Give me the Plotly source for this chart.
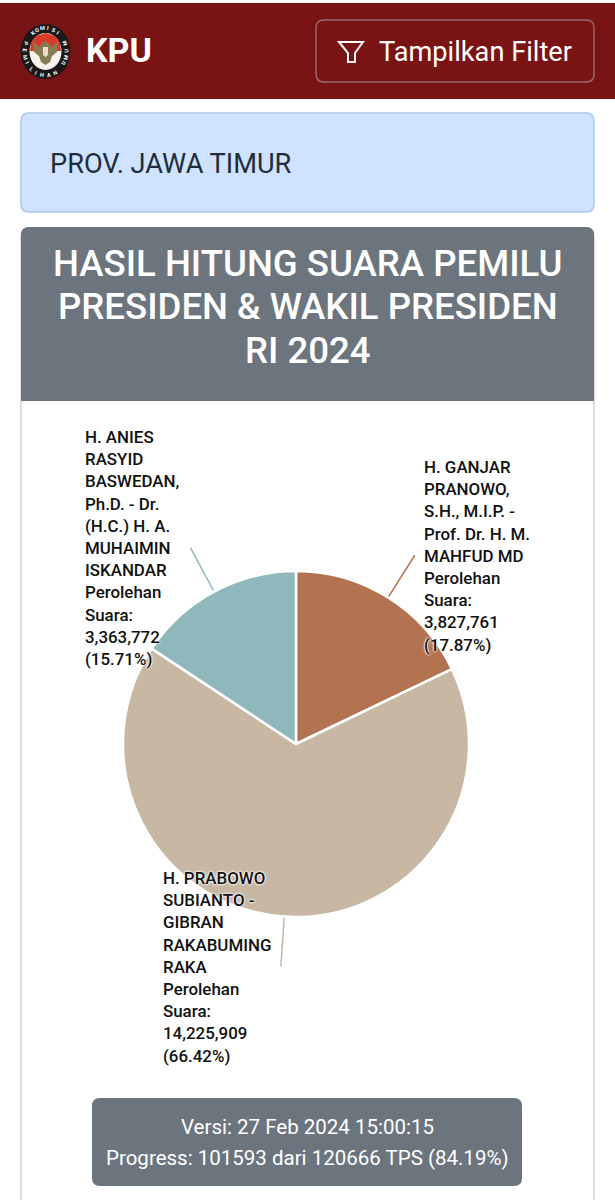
import math
import plotly.graph_objects as go

W, H = 615, 1200

# Vote tally
candidates = [
    "H. GANJAR PRANOWO, S.H., M.I.P. - Prof. Dr. H. M. MAHFUD MD",
    "H. PRABOWO SUBIANTO - GIBRAN RAKABUMING RAKA",
    "H. ANIES RASYID BASWEDAN, Ph.D. - Dr. (H.C.) H. A. MUHAIMIN ISKANDAR",
]
votes = [3827761, 14225909, 3363772]
slice_colors = ["#b47350", "#c7b7a3", "#8fb8bd"]

# Wrapped label lines for each slice
label_lines = [
    ["H. GANJAR", "PRANOWO,", "S.H., M.I.P. -", "Prof. Dr. H. M.", "MAHFUD MD", "Perolehan", "Suara:", "3,827,761", "(17.87%)"],
    ["H. PRABOWO", "SUBIANTO -", "GIBRAN", "RAKABUMING", "RAKA", "Perolehan", "Suara:", "14,225,909", "(66.42%)"],
    ["H. ANIES", "RASYID", "BASWEDAN,", "Ph.D. - Dr.", "(H.C.) H. A.", "MUHAIMIN", "ISKANDAR", "Perolehan", "Suara:", "3,363,772", "(15.71%)"],
]
label_origin = [(422, 467), (161, 878), (83, 437)]

title_lines = ["HASIL HITUNG SUARA PEMILU", "PRESIDEN & WAKIL PRESIDEN", "RI 2024"]
footer_lines = ["Versi: 27 Feb 2024 15:00:15", "Progress: 101593 dari 120666 TPS (84.19%)"]

CX, CY, R = 296, 744, 172
LEADER = 51
FONT = "Roboto, sans-serif"


def px(x):
    return x / W


def py(y):
    return 1 - y / H


def rounded(x0, y0, x1, y1, r, top_only=False):
    a, b, c, d = px(x0), py(y0), px(x1), py(y1)
    rx, ry = r / W, r / H
    p = f"M{a},{b - ry} Q{a},{b} {a + rx},{b} L{c - rx},{b} Q{c},{b} {c},{b - ry} "
    if top_only:
        p += f"L{c},{d} L{a},{d} Z"
    else:
        p += f"L{c},{d + ry} Q{c},{d} {c - rx},{d} L{a + rx},{d} Q{a},{d} {a},{d + ry} Z"
    return p


def panel(x0, y0, x1, y1, r, fill, line=None, lw=1, top_only=False, layer="below"):
    return dict(
        type="path", xref="paper", yref="paper", path=rounded(x0, y0, x1, y1, r, top_only),
        fillcolor=fill, line=dict(color=line or fill, width=lw if line else 0), layer=layer,
    )


def path_of(points, close=True):
    s = "M" + " L".join(f"{px(x)},{py(y)}" for x, y in points)
    return s + (" Z" if close else "")


def polygon(points, fill):
    return dict(type="path", xref="paper", yref="paper", path=path_of(points),
                fillcolor=fill, line=dict(width=0), layer="above")


def ellipse(cx, cy, rx, ry, fill, layer="above"):
    return dict(
        type="circle", xref="paper", yref="paper",
        x0=px(cx - rx), x1=px(cx + rx), y0=py(cy + ry), y1=py(cy - ry),
        fillcolor=fill, line=dict(width=0), layer=layer,
    )


def text(x, y, s, size, color, anchor="left", weight=400, halo=False, angle=0):
    font = dict(family=FONT, size=size, color=color, weight=weight)
    if halo:
        font["shadow"] = "0 0 2px #fff, 0 0 2px #fff, 0 0 3px #fff"
    return dict(
        xref="paper", yref="paper", x=px(x), y=py(y), text=s, showarrow=False,
        xanchor=anchor, yanchor="middle", align=anchor, font=font, textangle=angle,
    )


# Emblem geometry
EX, EY = 45.5, 51.5
emblem_red = [(30, 51), (31, 43), (36, 36), (45.5, 33), (55, 36), (60, 43), (61, 51)]

shapes = [
    # Page chrome
    dict(type="rect", xref="paper", yref="paper", x0=0, x1=1, y0=py(99), y1=py(3),
         fillcolor="#7a1414", line=dict(width=0), layer="below"),
    panel(316, 20, 594, 82, 8, "#7a1414", "#96686a", 1.5),
    panel(21, 113, 594, 212, 8, "#cfe2ff", "#a9c8ee", 1.5),
    # Card body and heading
    panel(21, 228, 594, 1215, 8, "#ffffff", "#d0d2d6", 1.5),
    panel(21, 227, 594, 401, 8, "#6c757d", top_only=True),
    panel(92, 1098, 522, 1186, 8, "#6c757d"),
    # Filter icon
    dict(type="path", xref="paper", yref="paper",
         path=path_of([(339, 42), (363, 42), (355, 53), (355, 62), (348, 62), (348, 53)]),
         fillcolor="rgba(0,0,0,0)", line=dict(color="#ffffff", width=2), layer="above"),
    # Emblem
    ellipse(EX, EY, 25, 27.5, "#1a1818"),
    ellipse(EX, EY, 16, 18.5, "#f6f2ec"),
    polygon(emblem_red, "#d8392b"),
    polygon([(33, 41), (39, 47), (42, 43), (45.5, 41), (49, 43), (52, 47), (58, 41),
             (57, 52), (52, 56), (50, 62), (45.5, 65), (41, 62), (39, 56), (34, 52)], "#8a7a52"),
    polygon([(43, 47), (48, 47), (48, 55), (45.5, 57), (43, 55)], "#e7ded0"),
]

# Leader lines leave each slice at the middle of its arc
total = sum(votes)
cumulative = 0
for value, color in zip(votes, slice_colors):
    mid = 2 * math.pi * (cumulative + value / 2) / total
    cumulative += value
    sx, sy = math.sin(mid), -math.cos(mid)
    shapes.append(dict(
        type="line", xref="paper", yref="paper",
        x0=px(CX + R * sx), y0=py(CY + R * sy),
        x1=px(CX + (R + LEADER) * sx), y1=py(CY + (R + LEADER) * sy),
        line=dict(color=color, width=1.5), layer="below",
    ))

annotations = [
    text(84, 50, "KPU", 34, "#ffffff", weight=700),
    text(377, 52, "Tampilkan Filter", 27.2, "#ffffff"),
    text(48, 164, "PROV. JAWA TIMUR", 27.2, "#1f2d3d"),
]
for y, line in zip((263, 306, 350), title_lines):
    annotations.append(text(307.5, y, line, 36.6, "#ffffff", anchor="center", weight=500))
for y, line in zip((1127, 1158), footer_lines):
    annotations.append(text(307, y, line, 20.5, "#ffffff", anchor="center"))
for (x, y0), lines in zip(label_origin, label_lines):
    for i, line in enumerate(lines):
        annotations.append(text(x, y0 + i * 22.2, line, 16.9, "#111111", weight=500, halo=True))

# Emblem lettering set letter by letter around the ring
for word, centre, step, rx, ry, flip in (
    ("KOMISI", 0, 15, 21, 23.5, False),
    ("PEMILIHAN UMUM", 180, 17, 21, 23.5, True),
):
    for i, ch in enumerate(word):
        offset = (i - (len(word) - 1) / 2) * step
        deg = centre - offset if flip else centre + offset
        rad = math.radians(deg)
        annotations.append(text(
            EX + rx * math.sin(rad), EY - ry * math.cos(rad), ch, 5.5, "#ffffff",
            anchor="center", weight=700, angle=deg - 180 if flip else deg,
        ))

fig = go.Figure(go.Pie(
    labels=candidates,
    values=votes,
    sort=False,
    direction="clockwise",
    rotation=0,
    textinfo="none",
    hoverinfo="none",
    showlegend=False,
    marker=dict(colors=slice_colors, line=dict(color="#ffffff", width=2.5)),
    domain=dict(x=[px(CX - R - 1), px(CX + R + 1)], y=[py(CY + R + 1), py(CY - R - 1)]),
))

fig.update_layout(
    width=W, height=H,
    margin=dict(l=0, r=0, t=0, b=0),
    paper_bgcolor="#ffffff",
    showlegend=False,
    shapes=shapes,
    annotations=annotations,
)
fig.write_html("out.html", config=dict(displayModeBar=False))
